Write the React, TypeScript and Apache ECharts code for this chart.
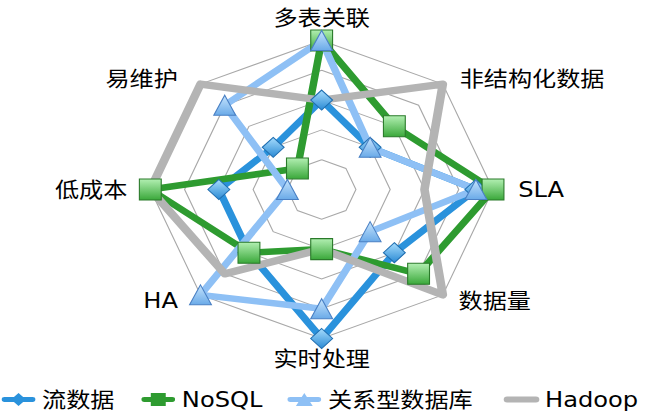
import React, { useEffect, useRef } from "react";
import * as echarts from "echarts";

// Indicators in counter-clockwise order starting at the top
const indicators = ["多表关联", "易维护", "低成本", "HA", "实时处理", "数据量", "SLA", "非结构化数据"];
const maxValue = 5;

const streamData = [3, 2, 3, 3, 5, 3, 4.5, 2];
const nosqlData = [5, 1, 5, 3, 2, 4, 5, 3];
const rdbmsData = [5, 4, 1, 5, 4, 2, 4.5, 2];
const hadoopData = [3, 5, 5, 4, 2, 5, 3, 5];

const seriesNames = ["流数据", "NoSQL", "关系型数据库", "Hadoop"];

const SX = 1.15;
const FONT = '"DejaVu Sans", "Noto Sans CJK SC", sans-serif';

// per-label padding [top, right, bottom, left]
const labelPadding: number[][] = [
  [0, 0, 4, 0],
  [0, 14, 0, 0],
  [0, 12, 0, 0],
  [0, 14, 0, 0],
  [2, 0, 0, 0],
  [0, 0, 0, 8],
  [0, 0, 0, 14],
  [0, 0, 0, 9],
];

function grad(top: string, bottom: string) {
  return new echarts.graphic.LinearGradient(0, 0, 0, 1, [
    { offset: 0, color: top },
    { offset: 1, color: bottom },
  ]);
}

export default function App() {
  const ref = useRef<HTMLDivElement>(null);

  useEffect(() => {
    if (!ref.current) return;
    const chart = echarts.init(ref.current, null, { renderer: "svg" });

    const legendBase = {
      top: 389,
      padding: 0,
      itemWidth: 31,
      itemHeight: 13,
      selectedMode: false,
      textStyle: { fontSize: 21, color: "#000", fontFamily: FONT },
    };

    const rich: Record<string, any> = {};
    indicators.forEach((_, i) => {
      rich["a" + i] = {
        fontSize: 21,
        color: "#000",
        fontFamily: FONT,
        padding: labelPadding[i],
      };
    });

    const stylesLine = [
      { color: "#2a92dc", width: 6.5 },
      { color: "#2e9b30", width: 6.5 },
      { color: "#8ec0f5", width: 6.5 },
      { color: "#b4b4b4", width: 7.5 },
    ];
    const datasets = [streamData, nosqlData, rdbmsData, hadoopData];

    const lineSeries = datasets.map((d, i) => ({
      type: "radar",
      name: seriesNames[i],
      symbol: "none",
      lineStyle: stylesLine[i],
      itemStyle: { color: stylesLine[i].color },
      data: [{ value: d, name: seriesNames[i] }],
    }));

    const markerDefs = [
      {
        symbol: "diamond",
        symbolSize: [19, 20],
        itemStyle: { color: grad("#a6dcfd", "#2a8ad4"), borderColor: "#1f6eb0", borderWidth: 1 },
      },
      {
        symbol: "rect",
        symbolSize: [19, 21],
        itemStyle: { color: grad("#b2efb2", "#3aa83a"), borderColor: "#2a7a2a", borderWidth: 1 },
      },
      {
        symbol: "triangle",
        symbolSize: [19, 20],
        itemStyle: { color: grad("#c6e4fd", "#6aaae8"), borderColor: "#4a80c4", borderWidth: 1 },
      },
    ];

    const markerSeries = markerDefs.map((m, i) => ({
      type: "radar",
      name: seriesNames[i],
      symbol: m.symbol,
      symbolSize: m.symbolSize,
      lineStyle: { width: 0, opacity: 0 },
      itemStyle: m.itemStyle,
      data: [{ value: datasets[i], name: seriesNames[i] }],
    }));

    chart.setOption({
      animation: false,
      backgroundColor: "#fff",
      radar: {
        center: [279.7, 189.5],
        radius: 149,
        startAngle: 90,
        splitNumber: 5,
        shape: "polygon",
        nameGap: 8,
        indicator: indicators.map((n) => ({ name: n, max: maxValue, min: 0 })),
        axisName: {
          color: "#000",
          fontSize: 21,
          fontFamily: FONT,
          formatter: (name: string) => `{a${indicators.indexOf(name)}|${name}}`,
          rich,
        },
        splitLine: { lineStyle: { color: "#a8a8a8", width: 1 } },
        splitArea: { show: false },
        axisLine: { show: false },
      },
      legend: [
        {
          ...legendBase,
          left: 1.5,
          data: [
            {
              name: seriesNames[0],
              icon: "path://M3,5 L33,5 A3,3 0 0 1 33,11 L3,11 A3,3 0 0 1 3,5 Z M18,0 L26,8 L18,16 L10,8 Z",
              itemStyle: { color: "#2a92dc" },
            },
          ],
        },
        {
          ...legendBase,
          left: 123,
          data: [
            {
              name: seriesNames[1],
              icon: "path://M3,5 L33,5 A3,3 0 0 1 33,11 L3,11 A3,3 0 0 1 3,5 Z M10,0 L26,0 L26,16 L10,16 Z",
              itemStyle: { color: "#2e9b30" },
            },
          ],
        },
        {
          ...legendBase,
          left: 250,
          data: [
            {
              name: seriesNames[2],
              icon: "path://M3,5 L33,5 A3,3 0 0 1 33,11 L3,11 A3,3 0 0 1 3,5 Z M18,0 L27,16 L9,16 Z",
              itemStyle: { color: "#8ec0f5" },
            },
          ],
        },
        {
          ...legendBase,
          left: 438,
          data: [
            {
              name: seriesNames[3],
              icon: "path://M3,4.5 L33,4.5 A3.5,3.5 0 0 1 33,11.5 L3,11.5 A3.5,3.5 0 0 1 3,4.5 Z",
              itemStyle: { color: "#b4b4b4" },
            },
          ],
        },
      ],
      series: [...lineSeries, ...markerSeries],
    });

    return () => chart.dispose();
  }, []);

  return (
    <div
      style={{
        position: "fixed",
        left: 0,
        top: 0,
        width: 650,
        height: 419,
        overflow: "hidden",
        background: "#fff",
      }}
    >
      <div
        ref={ref}
        style={{
          width: Math.round(650 / SX),
          height: 419,
          transform: `scaleX(${SX})`,
          transformOrigin: "0 0",
        }}
      />
    </div>
  );
}
